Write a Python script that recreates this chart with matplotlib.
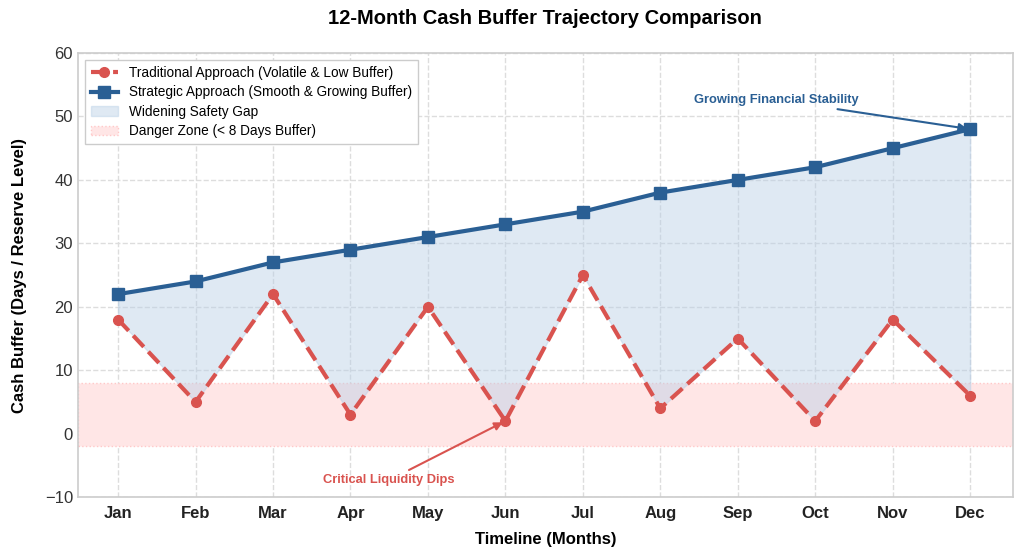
import matplotlib
matplotlib.use("Agg")
import matplotlib.pyplot as plt
import numpy as np

months = ["Jan", "Feb", "Mar", "Apr", "May", "Jun", "Jul", "Aug", "Sep", "Oct", "Nov", "Dec"]
traditional = [18, 5, 22, 3, 20, 2, 25, 4, 15, 2, 18, 6]
strategic = [22, 24, 27, 29, 31, 33, 35, 38, 40, 42, 45, 48]

plt.rcParams['font.family'] = ['Liberation Sans', 'DejaVu Sans']

fig, ax = plt.subplots(figsize=(10.24, 5.58), dpi=100)
fig.subplots_adjust(left=0.076, right=0.989, top=0.905, bottom=0.109)

x = np.arange(len(months))
red = "#d9534f"
blue = "#2a5f94"

ax.axhspan(-2, 8, facecolor="#ffe6e6", edgecolor="#ffc8c8", linestyle=":", linewidth=1,
           label="Danger Zone (< 8 Days Buffer)", zorder=1)
ax.fill_between(x, traditional, strategic, color="#b8cfe6", alpha=0.45,
                label="Widening Safety Gap", zorder=2)
ax.plot(x, traditional, color=red, linestyle="--", linewidth=3, marker="o", markersize=7,
        label="Traditional Approach (Volatile & Low Buffer)", zorder=4)
ax.plot(x, strategic, color=blue, linewidth=3, marker="s", markersize=8,
        label="Strategic Approach (Smooth & Growing Buffer)", zorder=5)

ax.set_xlim(-0.52, 11.55)
ax.set_ylim(-10, 60)
ax.set_xticks(x)
ax.set_xticklabels(months, fontsize=12, fontweight="bold", color="#222222")
ax.set_yticks(range(-10, 61, 10))
ax.tick_params(axis="y", labelsize=12, colors="#333333", length=0)
ax.tick_params(axis="x", length=0, pad=6)
for lbl in ax.get_yticklabels():
    lbl.set_color("#333333")

ax.grid(True, linestyle="--", color="#dddddd", linewidth=1)
ax.set_axisbelow(True)
for s in ax.spines.values():
    s.set_color("#cccccc")
    s.set_linewidth(1.2)

ax.set_title("12-Month Cash Buffer Trajectory Comparison", fontsize=14.5, fontweight="bold", pad=21)
ax.set_xlabel("Timeline (Months)", fontsize=12, fontweight="bold", labelpad=8)
ax.set_ylabel("Cash Buffer (Days / Reserve Level)", fontsize=12, fontweight="bold", labelpad=13)

ax.annotate("Growing Financial Stability", xy=(11, 48), xytext=(8.5, 52.6),
            ha="center", va="center", fontsize=9.3, fontweight="bold", color=blue,
            arrowprops=dict(arrowstyle="-|>", color=blue, lw=1.5, mutation_scale=12,
                            shrinkA=2, shrinkB=2), zorder=6)
ax.annotate("Critical Liquidity Dips", xy=(5, 2), xytext=(3.5, -7.3),
            ha="center", va="center", fontsize=9.3, fontweight="bold", color=red,
            arrowprops=dict(arrowstyle="-|>", color=red, lw=1.5, mutation_scale=12,
                            shrinkA=2, shrinkB=2), zorder=6)

handles, labels = ax.get_legend_handles_labels()
order = [2, 3, 1, 0]
leg = ax.legend([handles[i] for i in order], [labels[i] for i in order],
                loc="upper left", fontsize=9.8, frameon=True, fancybox=False,
                edgecolor="#cccccc", framealpha=1, borderpad=0.45, handlelength=2.0,
                labelspacing=0.4, handletextpad=0.8)

fig.savefig("out.png", dpi=100)
